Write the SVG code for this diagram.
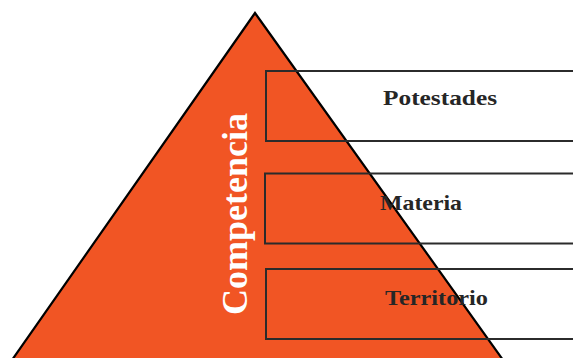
<svg xmlns="http://www.w3.org/2000/svg" width="573" height="358" viewBox="0 0 573 358">
  <style>
    .pyr { fill: #F15524; stroke: #000; stroke-width: 2.2; stroke-linejoin: miter; }
    .band { fill: none; stroke: #2b2b2b; stroke-width: 2; }
    .label { font-family: "Liberation Serif", "DejaVu Serif", serif; font-size: 22px; fill: #262626; text-anchor: start; }
    .title { font-family: "Liberation Serif", "DejaVu Serif", serif; font-size: 36px; font-weight: bold; fill: #fff; text-anchor: middle; }
  </style>
  <rect width="573" height="358" fill="#fff"/>
  <g id="pyramid">
    <polygon class="pyr" points="255,13 12,360 503,360"/>
    <text class="title" transform="translate(247,214) rotate(-90)" x="0" y="0" textLength="202" lengthAdjust="spacingAndGlyphs">Competencia</text>
  </g>
  <g id="potestades">
    <rect class="band" x="266" y="71" width="320" height="70"/>
    <text class="label" x="383" y="105" font-weight="bold" textLength="114" lengthAdjust="spacingAndGlyphs">Potestades</text>
  </g>
  <g id="materia">
    <rect class="band" x="265" y="173.5" width="320" height="70"/>
    <text class="label" x="380" y="210" font-weight="bold" textLength="82" lengthAdjust="spacingAndGlyphs">Materia</text>
  </g>
  <g id="territorio">
    <rect class="band" x="266" y="269" width="320" height="70"/>
    <text class="label" x="385" y="305" font-weight="bold" textLength="103" lengthAdjust="spacingAndGlyphs">Territorio</text>
  </g>
  <g id="connectors"/>
</svg>
